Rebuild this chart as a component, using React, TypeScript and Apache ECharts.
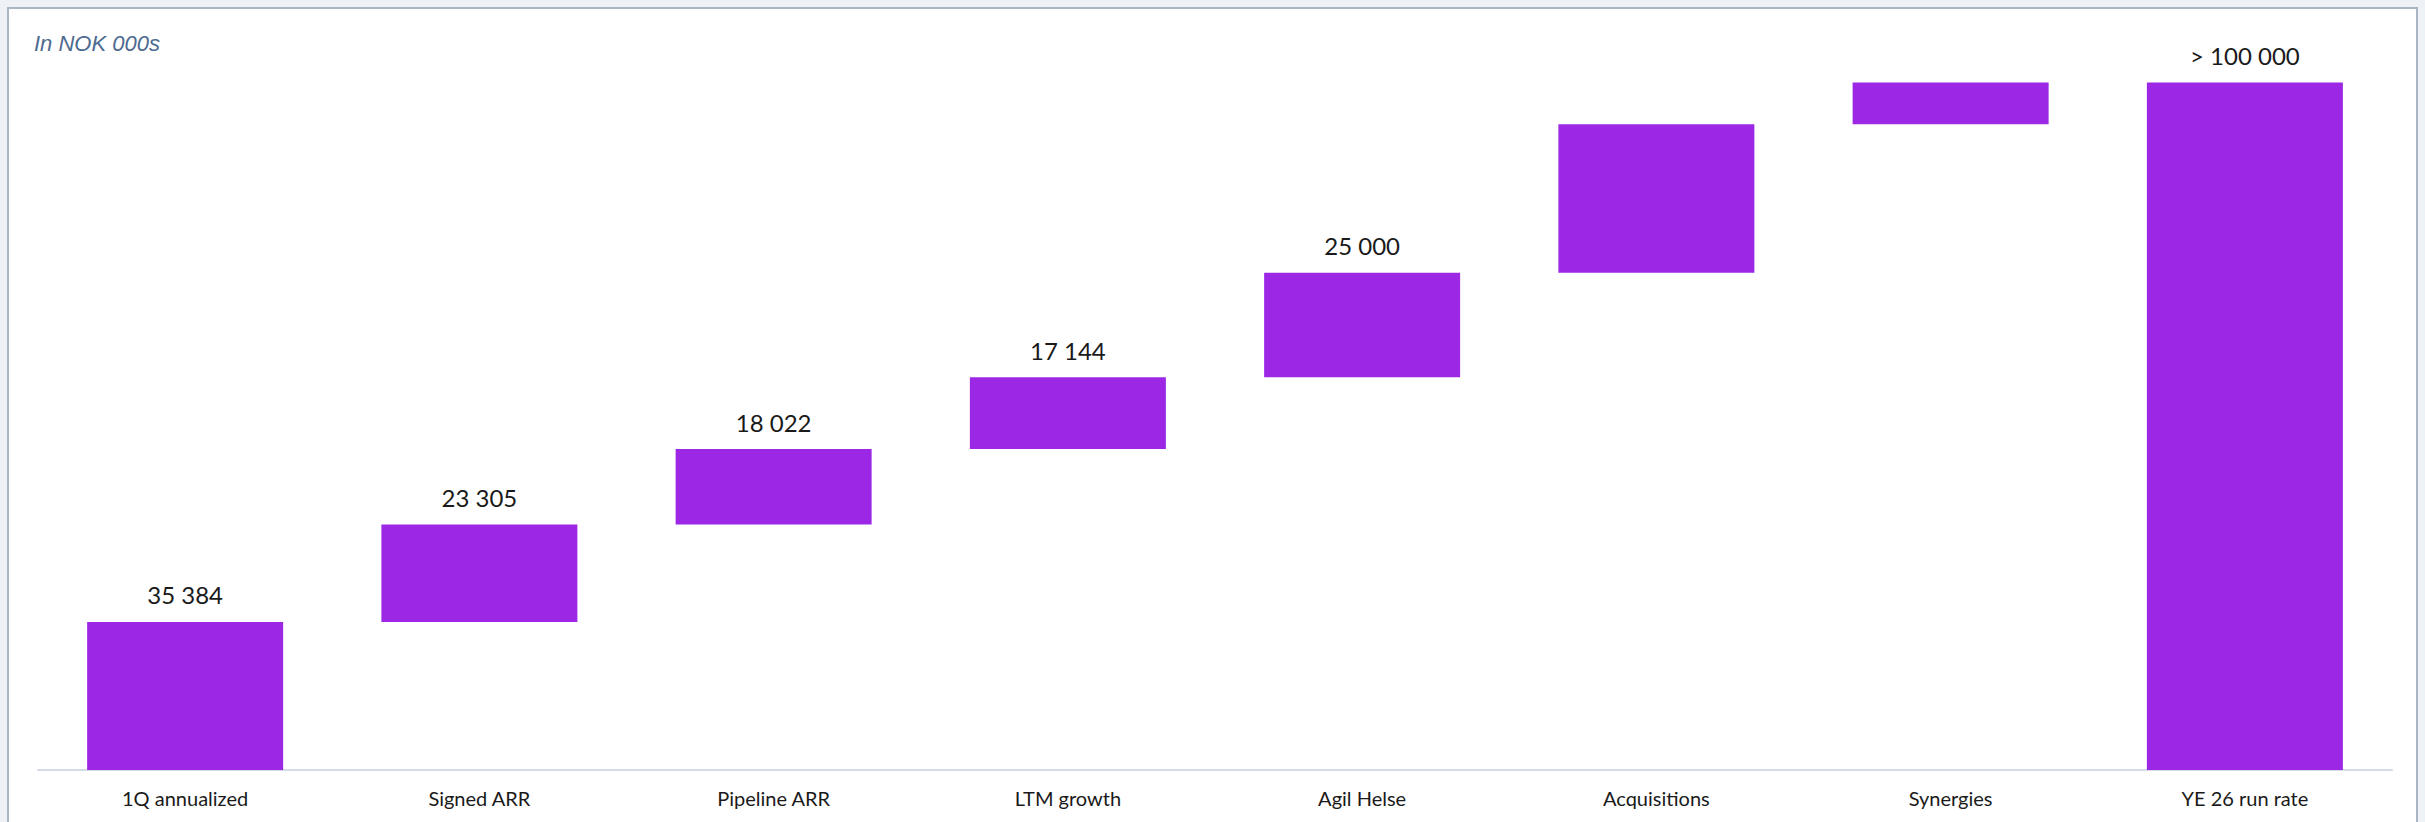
import React, { useEffect, useRef } from "react";
import * as echarts from "echarts";

const categories = [
  "1Q annualized",
  "Signed ARR",
  "Pipeline ARR",
  "LTM growth",
  "Agil Helse",
  "Acquisitions",
  "Synergies",
  "YE 26 run rate",
];
const deltas = [35384, 23305, 18022, 17144, 25000, 35500, 10000];
const valueLabels = ["35 384", "23 305", "18 022", "17 144", "25 000", "", "", "> 100 000"];
const yMax = 180000;

export default function App() {
  const ref = useRef<HTMLDivElement>(null);
  useEffect(() => {
    if (!ref.current) return;
    const chart = echarts.init(ref.current, undefined, { renderer: "svg" });
    const bases: number[] = [];
    const heights: number[] = [];
    let cum = 0;
    deltas.forEach((d) => {
      bases.push(cum);
      heights.push(d);
      cum += d;
    });
    bases.push(0);
    heights.push(cum);
    chart.setOption({
      animation: false,
      title: {
        text: "In NOK 000s",
        left: 34,
        top: 32,
        padding: 0,
        textStyle: {
          fontFamily: "Liberation Sans",
          fontStyle: "italic",
          fontWeight: "normal",
          fontSize: 22,
          color: "#4d6a8f",
        },
      },
      grid: { left: 38, right: 33, top: 17, bottom: 52 },
      xAxis: {
        type: "category",
        data: categories,
        axisTick: { show: false },
        axisLine: { lineStyle: { color: "#d3dce7", width: 2 } },
        axisLabel: {
          fontFamily: "Lato",
          fontSize: 20,
          color: "#1a1a1a",
          margin: 18,
          interval: 0,
        },
      },
      yAxis: {
        type: "value",
        min: 0,
        max: yMax,
        show: false,
        splitLine: { show: false },
      },
      series: [
        {
          type: "bar",
          stack: "w",
          data: bases,
          barWidth: 196,
          itemStyle: { color: "transparent" },
          silent: true,
        },
        {
          type: "bar",
          stack: "w",
          data: heights,
          barWidth: 196,
          itemStyle: { color: "#9c28e6" },
          label: {
            show: true,
            position: "top",
            distance: 15,
            fontFamily: "Lato",
            fontSize: 24,
            color: "#1a1a1a",
            formatter: (p: any) => valueLabels[p.dataIndex],
          },
        },
      ],
    });
    return () => chart.dispose();
  }, []);

  return (
    <div
      style={{
        position: "fixed",
        left: 0,
        top: 0,
        width: 2425,
        height: 822,
        overflow: "hidden",
        background: "#eef2f7",
      }}
    >
      <div
        style={{
          position: "absolute",
          left: 7,
          top: 7,
          width: 2411,
          height: 840,
          border: "2px solid #aab5c4",
          background: "#ffffff",
          boxSizing: "border-box",
        }}
      />
      <div
        ref={ref}
        style={{ position: "absolute", left: 0, top: 0, width: 2425, height: 822 }}
      />
    </div>
  );
}
